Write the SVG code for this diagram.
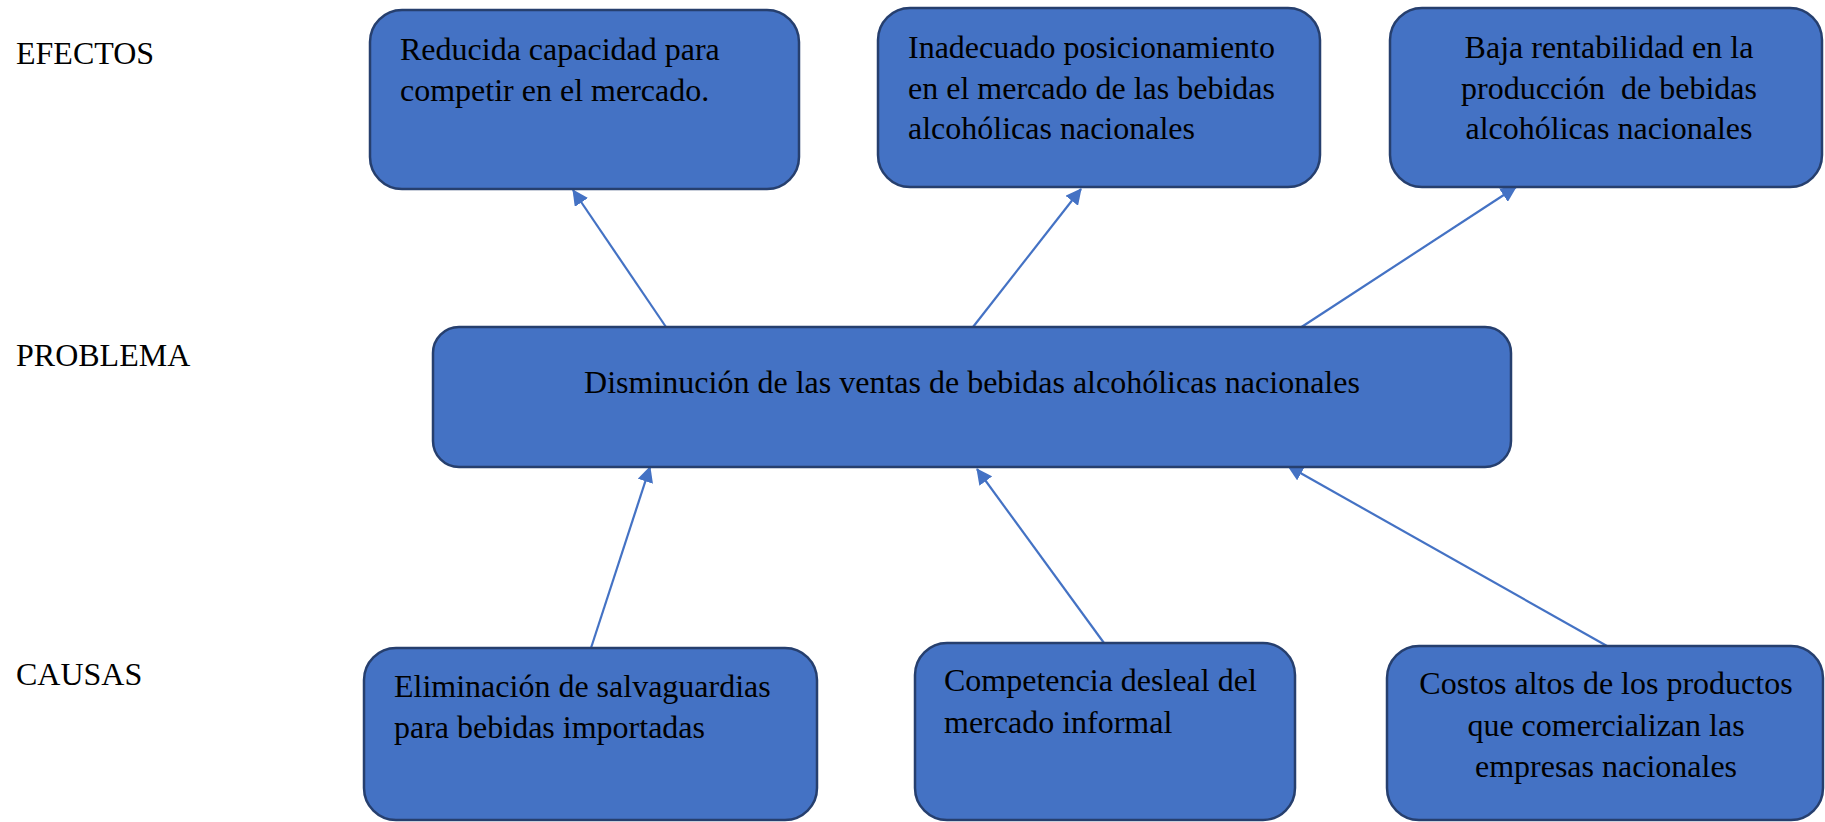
<svg xmlns="http://www.w3.org/2000/svg" width="1825" height="822" viewBox="0 0 1825 822">
<style>
.box{fill:#4472C4;stroke:#263F6E;stroke-width:2.5}
.t{font-family:"Liberation Serif","Times New Roman",serif;font-size:32px;fill:#000}
.lbl{font-family:"Liberation Serif","Times New Roman",serif;font-size:32px;fill:#000}
.c{text-anchor:middle}
.conn{stroke:#4472C4;stroke-width:2.2;fill:none;marker-end:url(#arr)}
</style>
<defs>
<marker id="arr" markerUnits="userSpaceOnUse" markerWidth="16" markerHeight="16" refX="15" refY="8" orient="auto" viewBox="0 0 16 16">
<path d="M0,0 L16,8 L0,16 z" fill="#4472C4"/>
</marker>
</defs>
<rect width="1825" height="822" fill="#fff"/>
<g id="labels">
<text class="lbl" x="16" y="64">EFECTOS</text>
<text class="lbl" x="16" y="366">PROBLEMA</text>
<text class="lbl" x="16" y="685">CAUSAS</text>
</g>
<g id="connectors">
<line class="conn" x1="666" y1="327" x2="573" y2="190"/>
<line class="conn" x1="973" y1="327" x2="1081" y2="189"/>
<line class="conn" x1="1300" y1="328" x2="1516" y2="187"/>
<line class="conn" x1="591" y1="648" x2="650" y2="467"/>
<line class="conn" x1="1104" y1="643" x2="977" y2="469"/>
<line class="conn" x1="1607" y1="646" x2="1288" y2="466"/>
</g>
<g id="efecto1">
<rect class="box" x="370" y="10" width="429" height="179" rx="32"/>
<text class="t" x="400" y="60">Reducida capacidad para</text>
<text class="t" x="400" y="101">competir en el mercado.</text>
</g>
<g id="efecto2">
<rect class="box" x="878" y="8" width="442" height="179" rx="32"/>
<text class="t" x="908" y="58">Inadecuado posicionamiento</text>
<text class="t" x="908" y="99">en el mercado de las bebidas</text>
<text class="t" x="908" y="139">alcohólicas nacionales</text>
</g>
<g id="efecto3">
<rect class="box" x="1390" y="8" width="432" height="179" rx="32"/>
<text class="t c" x="1609" y="58">Baja rentabilidad en la</text>
<text class="t c" x="1609" y="99" xml:space="preserve">producción  de bebidas</text>
<text class="t c" x="1609" y="139">alcohólicas nacionales</text>
</g>
<g id="problema">
<rect class="box" x="433" y="327" width="1078" height="140" rx="26"/>
<text class="t c" x="972" y="393">Disminución de las ventas de bebidas alcohólicas nacionales</text>
</g>
<g id="causa1">
<rect class="box" x="364" y="648" width="453" height="172" rx="32"/>
<text class="t" x="394" y="697">Eliminación de salvaguardias</text>
<text class="t" x="394" y="738">para bebidas importadas</text>
</g>
<g id="causa2">
<rect class="box" x="915" y="643" width="380" height="177" rx="32"/>
<text class="t" x="944" y="691">Competencia desleal del</text>
<text class="t" x="944" y="733">mercado informal</text>
</g>
<g id="causa3">
<rect class="box" x="1387" y="646" width="436" height="174" rx="32"/>
<text class="t c" x="1606" y="694">Costos altos de los productos</text>
<text class="t c" x="1606" y="736">que comercializan las</text>
<text class="t c" x="1606" y="777">empresas nacionales</text>
</g>
</svg>
